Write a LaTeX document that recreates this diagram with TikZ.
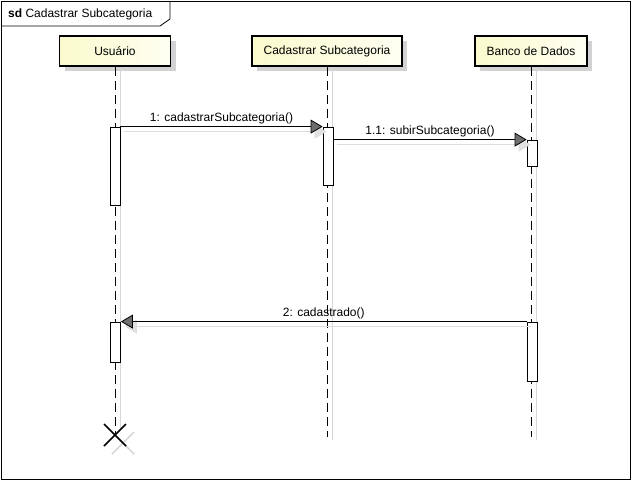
\documentclass[tikz,border=0pt]{standalone}
\usepackage{fontspec}
\setmainfont{Liberation Sans}
\usetikzlibrary{arrows.meta}
\tikzset{
  head/.style={draw=black, line width=1.6pt, left color={rgb,255:red,250;green,250;blue,205}, right color={rgb,255:red,255;green,255;blue,242}, minimum height=30pt, inner sep=0pt, font=\fontsize{12}{14}\selectfont},
  headshadow/.style={fill={rgb,255:red,210;green,210;blue,210}, draw=none, minimum height=30pt, inner sep=0pt},
  act/.style={draw=black, fill=white, line width=0.8pt, minimum width=10pt, inner sep=0pt},
  life/.style={draw=black, line width=0.8pt, dash pattern=on 9pt off 5pt},
  lifeshadow/.style={draw={rgb,255:red,215;green,215;blue,215}, line width=1pt},
  msg/.style={draw=black, line width=0.8pt, -{Triangle[length=12pt,width=14pt,fill={rgb,255:red,110;green,110;blue,110}]}},
  msgshadow/.style={draw={rgb,255:red,222;green,222;blue,222}, line width=1pt, -{Triangle[length=12pt,width=14pt,fill={rgb,255:red,225;green,225;blue,225}]}},
  lbl/.style={font=\fontsize{12}{14}\selectfont, inner sep=2pt, anchor=south},
}
\begin{document}
\begin{tikzpicture}[x=1pt,y=-1pt]
\useasboundingbox (0,0) rectangle (632,482);
% frame
\draw[line width=0.8pt] (1,1) rectangle (630,479);
\draw[line width=0.8pt] (1,26) -- (160,26) -- (170,19) -- (170,1);
\node[anchor=west, inner sep=0pt, font=\fontsize{12}{14}\selectfont] (title) at (8,14) {\textbf{sd} Cadastrar Subcategoria};
% head shadows
\node[headshadow, minimum width=111pt] (s1) at (120,56) {};
\node[headshadow, minimum width=150pt] (s2) at (332,56) {};
\node[headshadow, minimum width=112pt] (s3) at (536,56) {};
% lifeline shadows
\draw[lifeshadow] (s1.south) -- (120,430);
\draw[lifeshadow] (s2.south) -- (332,440);
\draw[lifeshadow] (s3.south) -- (536,440);
% heads
\node[head, minimum width=111pt] (usr) at (115,51) {Usuário};
\node[head, minimum width=150pt] (cad) at (327,51) {Cadastrar Subcategoria};
\node[head, minimum width=112pt] (bd) at (531,51) {Banco de Dados};
% end coordinates
\coordinate (xend) at (115,435);
\coordinate (cend) at (327,437);
\coordinate (bend) at (531,437);
% lifelines
\draw[life] (usr.south) -- (xend);
\draw[life] (cad.south) -- (cend);
\draw[life] (bd.south) -- (bend);
% activation shadows
\draw[lifeshadow] (120,127) -- (120,205);
% activations
\node[act, minimum height=78pt] (a1) at (115,166) {};
\node[act, minimum height=58pt] (a2) at (328,156) {};
\node[act, minimum height=26pt] (a3) at (532,153) {};
\node[act, minimum height=40pt] (a4) at (115.5,342) {};
\node[act, minimum height=59pt] (a5) at (532,351.5) {};
% message shadows
\draw[msgshadow] ([shift={(4,5)}]a1.north east) -- ([shift={(4,5)}]a2.north west);
\draw[msgshadow] ([shift={(4,5)}]a2.east |- a3.north) -- ([shift={(4,5)}]a3.north west);
\draw[msgshadow] ([shift={(4,5)}]a5.north west) -- ([shift={(4,5)}]a4.north east);
% messages
\draw[msg] (a1.north east) -- node[lbl] {1: cadastrarSubcategoria()} (a2.north west);
\draw[msg] (a2.east |- a3.north) -- node[lbl] {1.1: subirSubcategoria()} (a3.north west);
\draw[msg] (a5.north west) -- node[lbl] {2: cadastrado()} (a4.north east);
% destruction
\draw[line width=1.6pt, draw={rgb,255:red,215;green,215;blue,215}] ([shift={(-7,-7)}]xend) ++(4,4) -- ++(22,22);
\draw[line width=1.6pt, draw={rgb,255:red,215;green,215;blue,215}] ([shift={(15,-7)}]xend) ++(4,4) -- ++(-22,22);
\draw[line width=1.6pt] ([shift={(-11,-11)}]xend) -- ([shift={(11,11)}]xend);
\draw[line width=1.6pt] ([shift={(11,-11)}]xend) -- ([shift={(-11,11)}]xend);
\end{tikzpicture}
\end{document}
